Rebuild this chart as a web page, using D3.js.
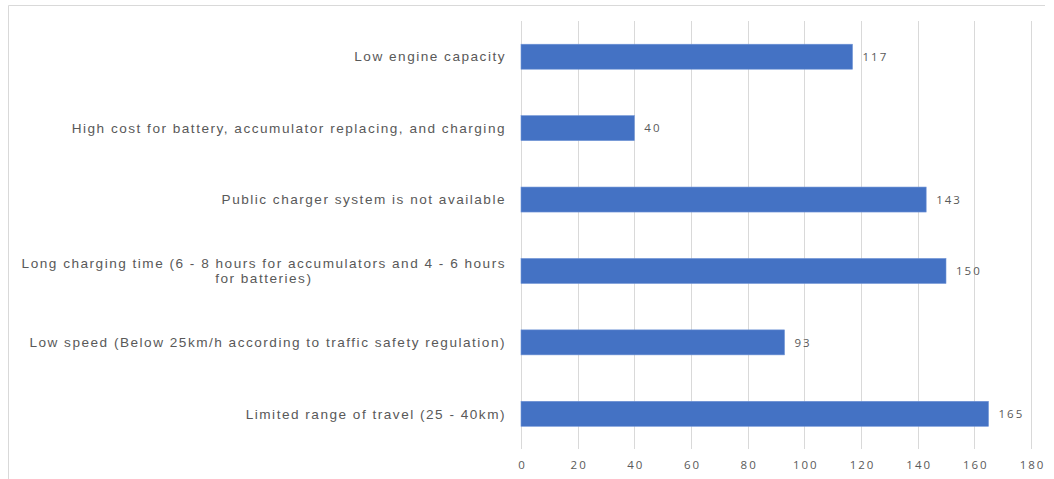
<!DOCTYPE html>
<html>
<head>
<meta charset="utf-8">
<script src="https://cdn.jsdelivr.net/npm/d3@7"></script>
<style>
  html, body { margin: 0; padding: 0; background: #fff; }
  svg { display: block; }
</style>
</head>
<body>
<svg id="chart" width="1054" height="479"></svg>
<script>
// Reasons given for not choosing e-bikes (number of respondents)
const categories = [
  ["Low engine capacity"],
  ["High cost for battery, accumulator replacing, and charging"],
  ["Public charger system is not available"],
  ["Long charging time (6 - 8 hours for accumulators and 4 - 6 hours", "for batteries)"],
  ["Low speed (Below 25km/h according to traffic safety regulation)"],
  ["Limited range of travel (25 - 40km)"]
];
const values = [117, 40, 143, 150, 93, 165];
const tickValues = [0, 20, 40, 60, 80, 100, 120, 140, 160, 180];

const svg = d3.select("#chart");
const W = 1054, H = 479;

// frame
svg.append("path")
  .attr("d", `M8.5,${H} V5.5 H1045`)
  .attr("fill", "none")
  .attr("stroke", "#d9d9d9")
  .attr("stroke-width", 1);

const x = d3.scaleLinear().domain([0, 180]).range([521, 1031]);
const y = d3.scaleBand()
  .domain(d3.range(categories.length))
  .range([21, 449.5])
  .paddingInner(0.65)
  .paddingOuter(0.325);

// vertical gridlines
svg.append("g")
  .selectAll("line")
  .data(tickValues)
  .join("line")
  .attr("x1", d => Math.round(x(d)) + 0.5)
  .attr("x2", d => Math.round(x(d)) + 0.5)
  .attr("y1", 21)
  .attr("y2", 449)
  .attr("stroke", "#d9d9d9")
  .attr("stroke-width", 1);

const numFont = { family: "'Open Sans', sans-serif", size: "11.5px", spacing: "2px" };

// x axis tick labels
const xAxis = d3.axisBottom(x).tickValues(tickValues).tickSize(0).tickPadding(0);
const gx = svg.append("g").attr("transform", "translate(1,461)").call(xAxis);
gx.select(".domain").remove();
gx.selectAll("text")
  .attr("dy", "0.71em")
  .attr("fill", "#595959")
  .style("font-family", numFont.family)
  .style("font-size", numFont.size)
  .style("letter-spacing", numFont.spacing);

// bars
svg.append("g")
  .selectAll("rect")
  .data(values)
  .join("rect")
  .attr("x", x(0))
  .attr("y", (d, i) => y(i))
  .attr("width", d => x(d) - x(0))
  .attr("height", y.bandwidth())
  .attr("fill", "#4472c4")
  .attr("stroke", "#6f93d6")
  .attr("stroke-width", 0.6);

// value labels
svg.append("g")
  .selectAll("text")
  .data(values)
  .join("text")
  .attr("x", d => x(d) + 10)
  .attr("y", (d, i) => y(i) + y.bandwidth() / 2)
  .attr("dy", "0.36em")
  .attr("fill", "#595959")
  .style("font-family", numFont.family)
  .style("font-size", numFont.size)
  .style("letter-spacing", numFont.spacing)
  .text(d => d);

// category labels (right aligned; wrapped labels centred on their widest line)
const labelRight = 506;
const lineH = 15.5;
const catG = svg.append("g")
  .style("font-family", "'Liberation Sans', Arial, sans-serif")
  .style("font-size", "13.6px")
  .style("letter-spacing", "1.5px")
  .attr("fill", "#595959");

categories.forEach((lines, i) => {
  const cy = y(i) + y.bandwidth() / 2;
  const t = catG.append("text").attr("y", cy);
  if (lines.length === 1) {
    t.attr("x", labelRight).attr("text-anchor", "end").attr("dy", "0.35em").text(lines[0]);
  } else {
    // measure the first line to centre the block on it
    t.attr("x", labelRight).attr("text-anchor", "end").attr("dy", "0.35em").text(lines[0]);
    const w = t.node().getComputedTextLength();
    const cx = labelRight - w / 2;
    t.text(null).attr("x", cx).attr("text-anchor", "middle").attr("dy", null);
    lines.forEach((ln, k) => {
      t.append("tspan")
        .attr("x", cx)
        .attr("y", cy + (k - (lines.length - 1) / 2) * lineH)
        .attr("dy", "0.35em")
        .text(ln);
    });
  }
});
</script>
</body>
</html>
